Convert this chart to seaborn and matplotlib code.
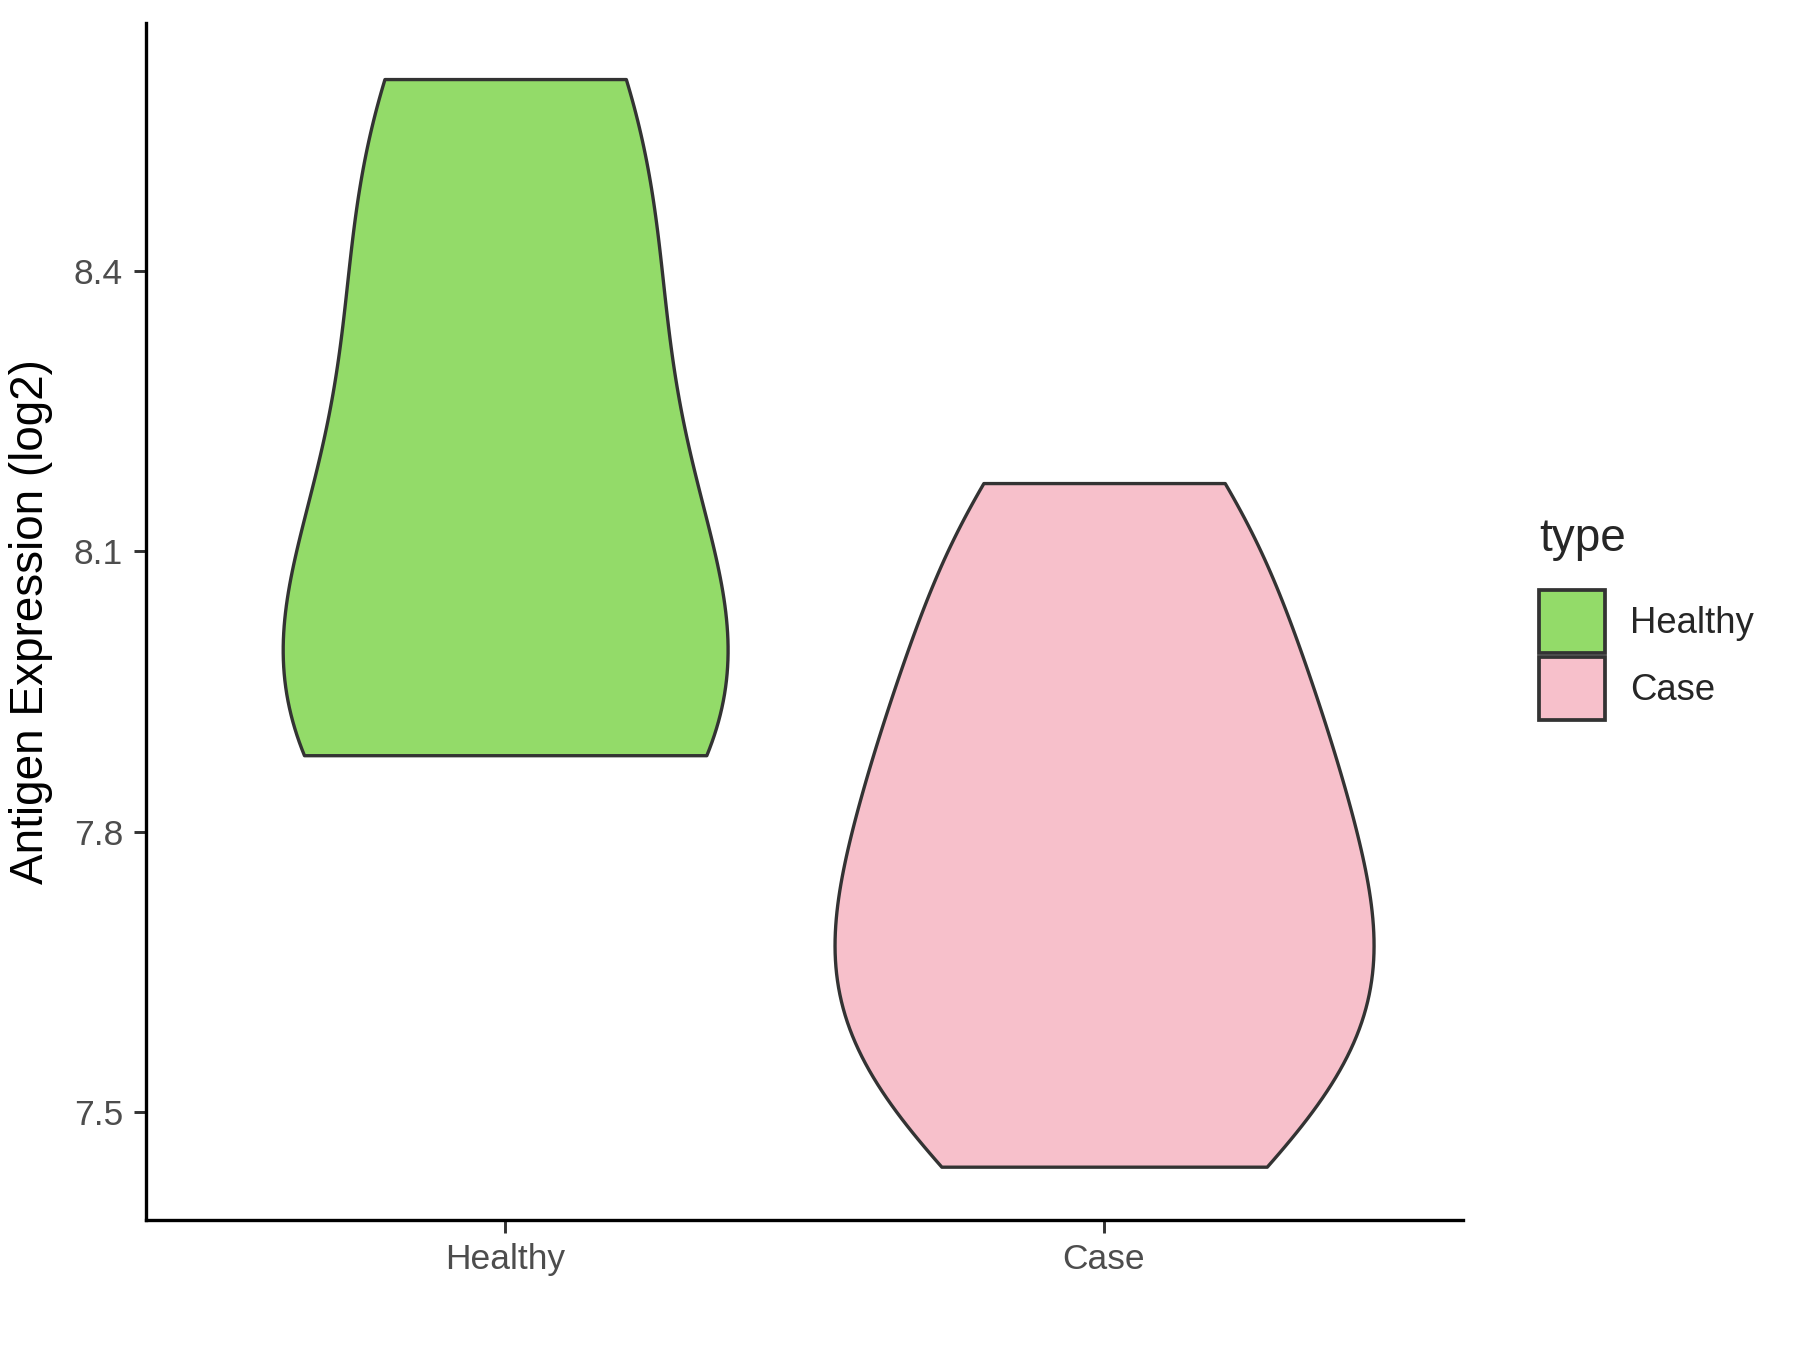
import numpy as np
import pandas as pd
import matplotlib
matplotlib.use("Agg")
import matplotlib.pyplot as plt
import seaborn as sns
from matplotlib.patches import Patch

categories = ["Healthy", "Case"]
healthy_values = [7.882, 7.926, 8.110, 8.367, 8.605]
case_values = [7.442, 7.516, 7.595, 7.677, 7.688, 7.806, 7.870, 7.951, 8.066, 8.173]
palette = {"Healthy": "#93DB69", "Case": "#F7C0CB"}
y_ticks = [7.5, 7.8, 8.1, 8.4]

df = pd.DataFrame({
    "type": ["Healthy"] * len(healthy_values) + ["Case"] * len(case_values),
    "value": healthy_values + case_values,
})
df["type"] = pd.Categorical(df["type"], categories=categories, ordered=True)

sns.set_style("white")
plt.rcParams["font.family"] = ["Liberation Sans", "DejaVu Sans"]

fig = plt.figure(figsize=(12, 9), dpi=150)
ax = fig.add_axes([0.081, 0.0963, 0.732, 0.8867])

sns.violinplot(data=df, x="type", y="value", hue="type", order=categories,
               hue_order=categories, palette=palette, inner=None, cut=0,
               density_norm="area", common_norm=True, width=0.9,
               linewidth=1.6, linecolor="#333333", saturation=1,
               bw_method="scott", bw_adjust=0.875, legend=False, ax=ax)

ax.set_xlim(-0.6, 1.6)
ax.set_ylim(7.385, 8.665)
ax.set_yticks(y_ticks)
ax.set_yticklabels([f"{t:.1f}" for t in y_ticks])
ax.set_xlabel("")
ax.set_ylabel("Antigen Expression (log2)", fontsize=22, color="black", labelpad=10)
ax.tick_params(axis="both", labelsize=17, labelcolor="#4D4D4D", length=6,
               width=1.4, color="#333333", left=True, bottom=True, pad=5)
for s in ["top", "right"]:
    ax.spines[s].set_visible(False)
for s in ["left", "bottom"]:
    ax.spines[s].set_color("black")
    ax.spines[s].set_linewidth(1.6)

hs = [Patch(facecolor=palette[c], edgecolor="#333333", linewidth=1.8) for c in categories]
fig.legend(hs, categories, title="type", loc="center left",
           bbox_to_anchor=(0.847, 0.542), frameon=False, fontsize=17.5,
           title_fontsize=22, handlelength=1.8, handleheight=2.27,
           labelspacing=0.12, handletextpad=0.7, alignment="left",
           borderaxespad=0)
leg = fig.legends[0]
leg._legend_box.sep = 14

fig.savefig("out.png", dpi=150, facecolor="white")
